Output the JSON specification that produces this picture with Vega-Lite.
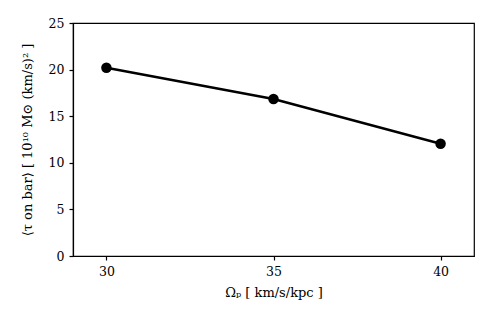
{
  "$schema": "https://vega.github.io/schema/vega-lite/v6.json",
  "autosize": "none",
  "width": 401,
  "height": 233,
  "padding": {"left": 73, "top": 23, "right": 17, "bottom": 71},
  "background": "white",
  "config": {
    "view": {"stroke": "black", "strokeWidth": 1.2},
    "font": "DejaVu Serif",
    "axis": {
      "grid": false,
      "domainColor": "black",
      "domainWidth": 1.2,
      "tickColor": "black",
      "tickWidth": 1.2,
      "tickSize": 4,
      "labelFont": "DejaVu Serif",
      "labelFontSize": 12.5,
      "labelColor": "black",
      "labelPadding": 5,
      "titleFont": "DejaVu Serif",
      "titleFontSize": 13,
      "titleFontWeight": "normal",
      "titleColor": "black"
    }
  },
  "data": {"values": [
    {"omega": 30, "tau": 20.2},
    {"omega": 35, "tau": 16.85},
    {"omega": 40, "tau": 12.05}
  ]},
  "encoding": {
    "x": {"field": "omega", "type": "quantitative",
      "scale": {"domain": [29, 41], "nice": false, "zero": false},
      "axis": {"values": [30, 35, 40], "title": "Ωₚ [ km/s/kpc ]", "titlePadding": 9}},
    "y": {"field": "tau", "type": "quantitative",
      "scale": {"domain": [0, 25], "nice": false},
      "axis": {"values": [0, 5, 10, 15, 20, 25], "title": "⟨τ on bar⟩ [ 10¹⁰ M⊙ (km/s)² ]", "titlePadding": 14}}
  },
  "layer": [
    {"mark": {"type": "line", "color": "black", "strokeWidth": 2.5}},
    {"mark": {"type": "point", "filled": true, "color": "black", "opacity": 1, "size": 110}}
  ]
}
